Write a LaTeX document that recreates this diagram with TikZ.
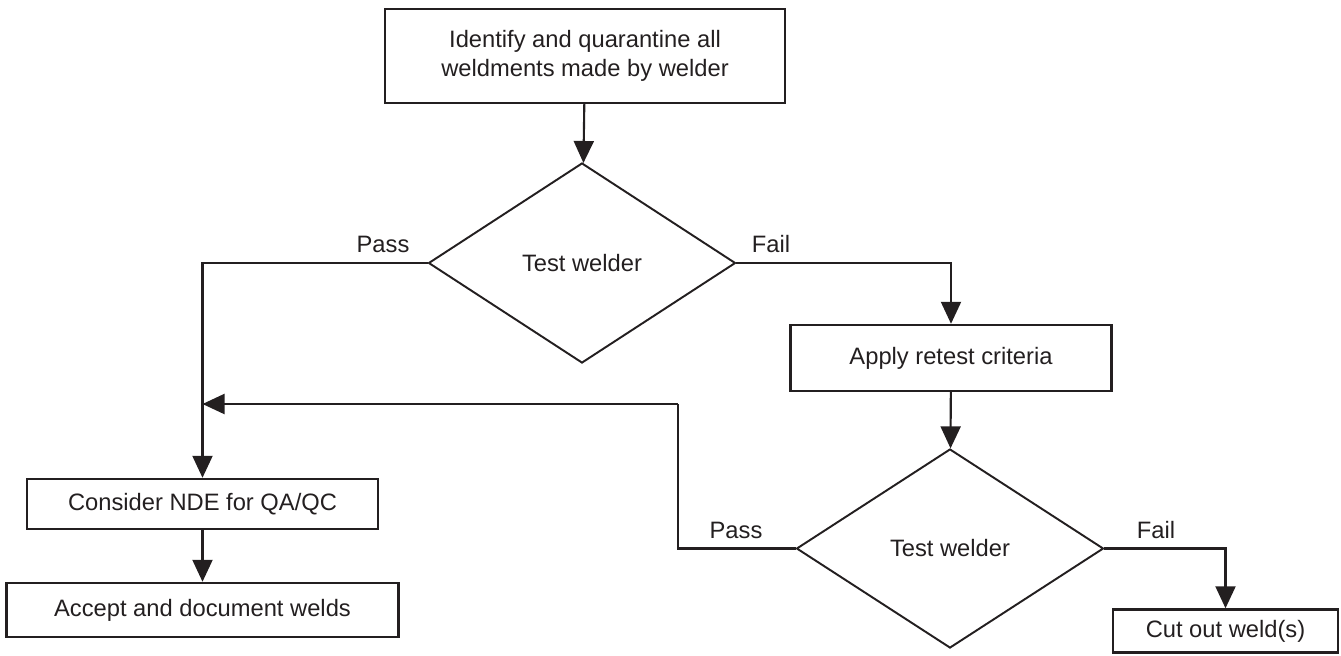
\documentclass[tikz,border=0pt]{standalone}
\usepackage{fontspec}
\setmainfont{Liberation Sans}
\usetikzlibrary{arrows.meta,positioning,shapes.geometric}
\definecolor{ink}{HTML}{231F20}
\begin{document}
\begin{tikzpicture}[every node/.style={font=\fontsize{13.5}{16.5}\selectfont,text=ink},
  stepbox/.style={draw=ink,line width=1.4pt,align=center,inner sep=0pt},
  testbox/.style={draw=ink,diamond,line width=1.1pt,inner sep=0pt,aspect=1.5},
  flow/.style={draw=ink,line width=1.2pt,-{Triangle[length=4.4mm,width=4mm]}},
  link/.style={draw=ink,line width=1.2pt}]
\useasboundingbox (0,0) rectangle (26.82,-13.10);
\node[stepbox,minimum width=8.0cm,minimum height=1.88cm] (quar) at (11.70,-1.12) {Identify and quarantine all\\weldments made by welder};
\node[testbox,minimum width=6.14cm,minimum height=4.0cm] (test1) at (11.64,-5.26) {Test welder};
\node[stepbox,minimum width=6.42cm,minimum height=1.32cm] (retest) at (19.02,-7.16) {Apply retest criteria};
\node[testbox,minimum width=6.14cm,minimum height=3.98cm] (test2) at (19.00,-10.97) {Test welder};
\node[stepbox,minimum width=7.02cm,minimum height=1.0cm] (nde) at (4.05,-10.08) {Consider NDE for QA/QC};
\node[stepbox,minimum width=7.84cm,minimum height=1.08cm] (accept) at (4.05,-12.20) {Accept and document welds};
\node[stepbox,minimum width=4.5cm,minimum height=0.86cm] (cut) at (24.51,-12.62) {Cut out weld(s)};
\coordinate (pbend) at (13.56,-8.08);
\coordinate (join) at (4.05,-8.08);
% connectors
\draw[flow] (quar) -- (test1);
\draw[flow] (test1.west) -| (nde.north);
\draw[flow] (test1.east) -| (retest.north);
\draw[flow] (retest) -- (test2);
\draw[link] (test2.west) -| (pbend);
\draw[flow] (pbend) -- (join);
\draw[flow] (test2.east) -| (cut.north);
\draw[flow] (nde) -- (accept);
% branch labels
\node[anchor=base] (pass1) at (7.66,-5.04) {Pass};
\node[anchor=base] (fail1) at (15.42,-5.04) {Fail};
\node[anchor=base] (pass2) at (14.72,-10.76) {Pass};
\node[anchor=base] (fail2) at (23.12,-10.76) {Fail};
\end{tikzpicture}
\end{document}
